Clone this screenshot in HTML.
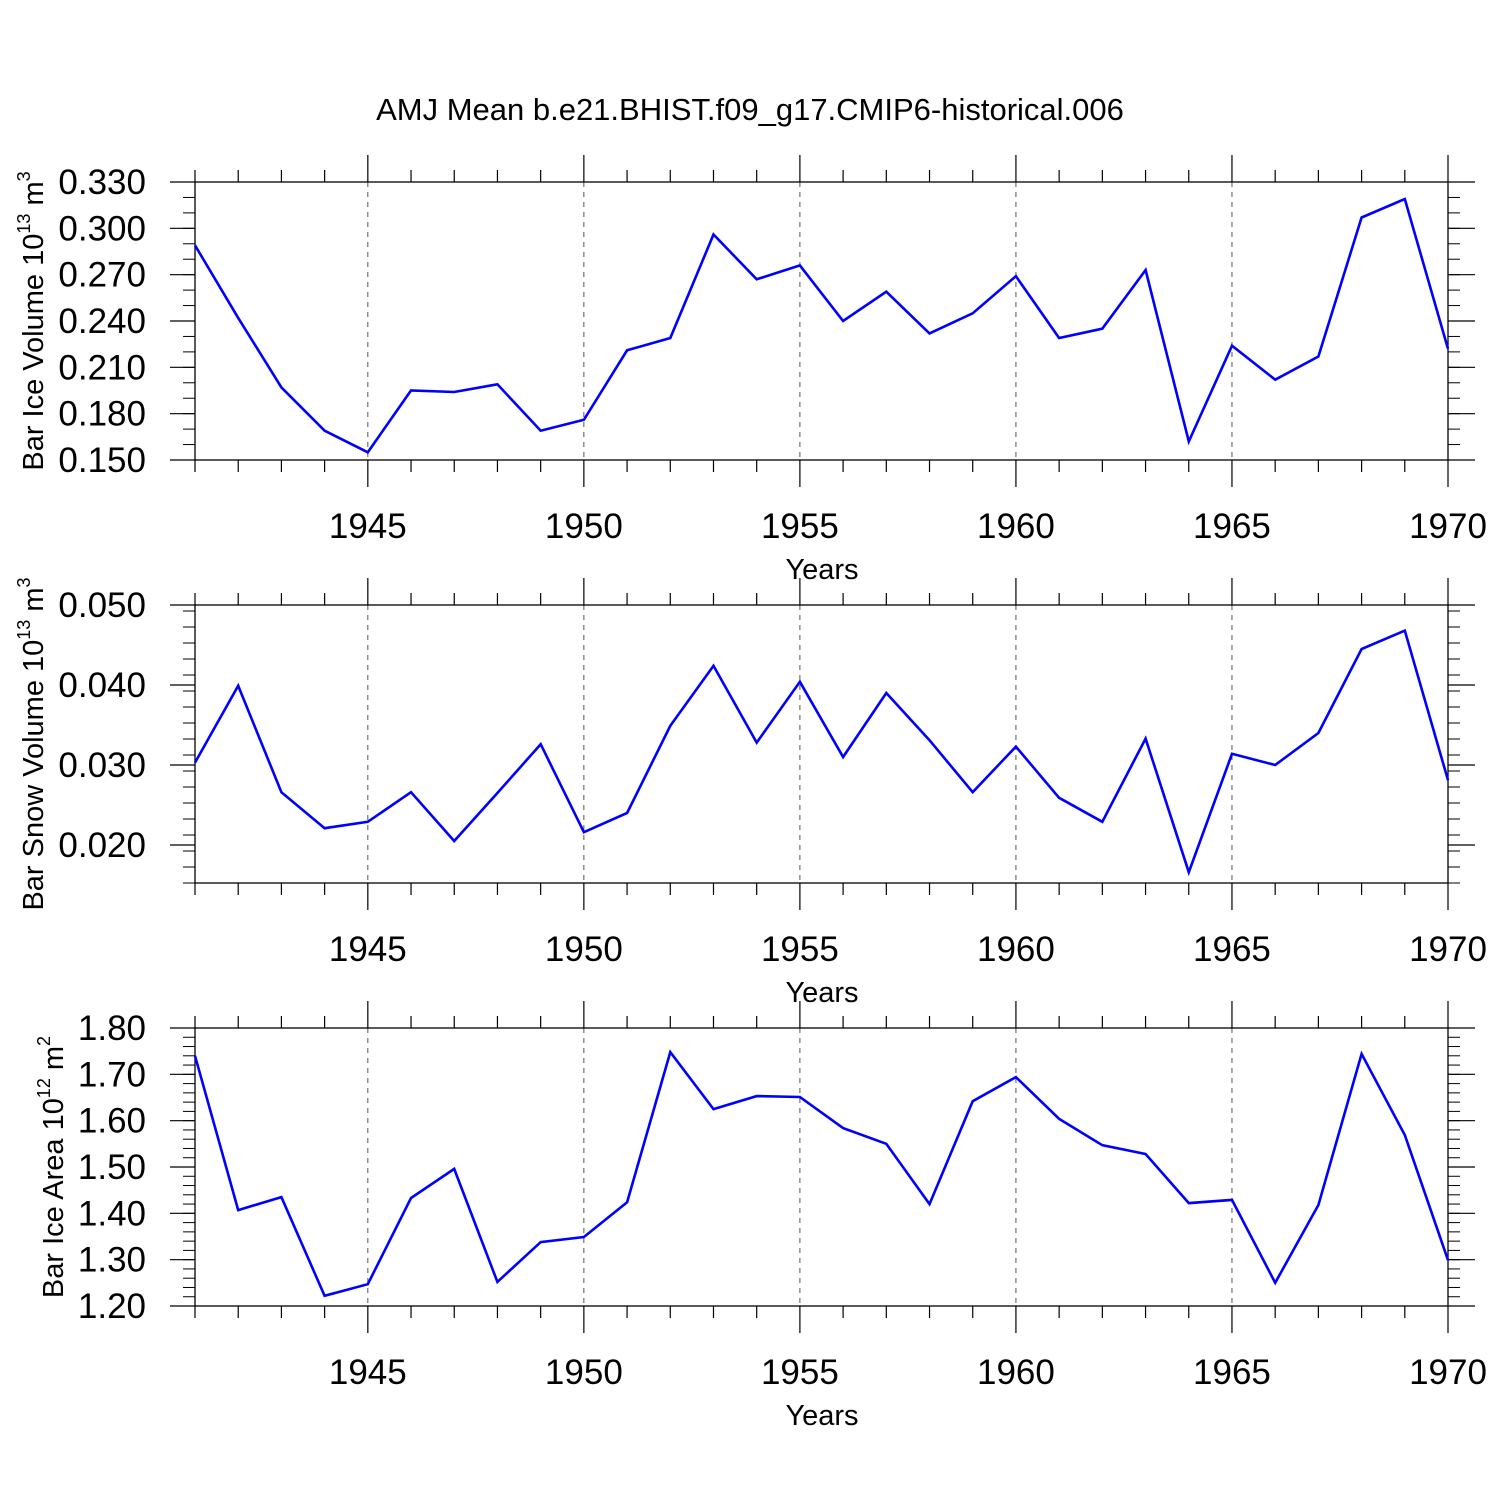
<!DOCTYPE html>
<html><head><meta charset="utf-8"><style>body{margin:0;background:#fff}svg{display:block}text{font-family:"Liberation Sans",sans-serif;fill:#000}</style></head>
<body>
<svg id="c" width="1500" height="1500" viewBox="0 0 1500 1500">
<text x="750" y="120" font-size="31" text-anchor="middle">AMJ Mean b.e21.BHIST.f09_g17.CMIP6-historical.006</text>
</svg>
<script>
const years = [1941,1942,1943,1944,1945,1946,1947,1948,1949,1950,1951,1952,1953,1954,1955,1956,1957,1958,1959,1960,1961,1962,1963,1964,1965,1966,1967,1968,1969,1970];
const iceVolume = [0.289,0.242,0.197,0.169,0.155,0.195,0.194,0.199,0.169,0.176,0.221,0.229,0.296,0.267,0.276,0.240,0.259,0.232,0.245,0.269,0.229,0.235,0.273,0.162,0.224,0.202,0.217,0.307,0.319,0.222];
const snowVolume = [0.0303,0.0399,0.0266,0.0221,0.0229,0.0266,0.0205,0.0265,0.0326,0.0216,0.0240,0.0349,0.0424,0.0328,0.0404,0.0310,0.0390,0.0331,0.0266,0.0323,0.0259,0.0229,0.0333,0.0166,0.0314,0.0300,0.0340,0.0445,0.0468,0.0281];
const iceArea = [1.740,1.407,1.435,1.222,1.247,1.433,1.496,1.252,1.338,1.349,1.424,1.748,1.625,1.653,1.651,1.584,1.550,1.420,1.642,1.694,1.604,1.547,1.528,1.422,1.429,1.250,1.418,1.744,1.569,1.299];
const xTicks = [1945,1950,1955,1960,1965,1970];
const iceVolTicks = [0.150,0.180,0.210,0.240,0.270,0.300,0.330];
const snowTicks = [0.020,0.030,0.040,0.050];
const areaTicks = [1.20,1.30,1.40,1.50,1.60,1.70,1.80];

const svg = document.getElementById('c');
const NS = 'http://www.w3.org/2000/svg';
function mk(tag, attrs, parent){const e=document.createElementNS(NS,tag);for(const k in attrs)e.setAttribute(k,attrs[k]);(parent||svg).appendChild(e);return e;}
const X0=195, X1=1448;
const xs = y => X0 + (y-1941)/(1970-1941)*(X1-X0);

function panel(name, top, bot, ymin, ymax, ticks, minorStep, dec, data, label, exp, unit){
  const g = mk('g',{});
  
  
  const ys = v => bot - (v-ymin)/(ymax-ymin)*(bot-top);
  xTicks.forEach(t=>{ if(t<1970){ const l=mk('line',{x1:xs(t),x2:xs(t),y1:top,y2:bot,stroke:'#555','stroke-width':1,'stroke-dasharray':'5,5'},g);
    
     }});
  const r = mk('rect',{x:X0,y:top,width:X1-X0,height:bot-top,fill:'none',stroke:'#000','stroke-width':1.3},g);
  
  
  years.forEach(yr=>{ const major = xTicks.includes(yr); const L = major?27:12;
    mk('line',{x1:xs(yr),x2:xs(yr),y1:top-L,y2:top,stroke:'#000','stroke-width':1.2},g);
    mk('line',{x1:xs(yr),x2:xs(yr),y1:bot,y2:bot+L,stroke:'#000','stroke-width':1.2},g); });
  xTicks.forEach(t=>{ const tx = mk('text',{x:xs(t),y:bot+78,'font-size':35,'text-anchor':'middle'},g); tx.textContent=t;
    
     });
  const xt = mk('text',{x:822,y:bot+119,'font-size':29,'text-anchor':'middle'},g); xt.textContent='Years';
  
  
  for(let v=ymin; v<=ymax+1e-9; v+=minorStep){ const y=ys(v); if(y<top-0.5) continue;
    mk('line',{x1:X0-12,x2:X0,y1:y,y2:y,stroke:'#000','stroke-width':1},g);
    mk('line',{x1:X1,x2:X1+12,y1:y,y2:y,stroke:'#000','stroke-width':1},g); }
  ticks.forEach(v=>{ const y=ys(v);
    mk('line',{x1:X0-25,x2:X0,y1:y,y2:y,stroke:'#000','stroke-width':1.2},g);
    mk('line',{x1:X1,x2:X1+27,y1:y,y2:y,stroke:'#000','stroke-width':1.2},g);
    const tx = mk('text',{x:146,y:y+12,'font-size':35,'text-anchor':'end'},g); tx.textContent=v.toFixed(dec);
    
     });
  const cy=(top+bot)/2;
  const yt = mk('text',{x:0,y:0,'font-size':29,'text-anchor':'middle',transform:`translate(${label.x},${cy}) rotate(-90)`},g);
  yt.innerHTML = label.t+' 10<tspan font-size="18" dy="-13">'+exp+'</tspan><tspan dy="13"> '+unit+'</tspan><tspan font-size="18" dy="-13">'+label.p+'</tspan>';
  
  
  const pts = data.map((v,i)=>xs(years[i]).toFixed(1)+','+ys(v).toFixed(1)).join(' ');
  const pl = mk('polyline',{points:pts,fill:'none',stroke:'#0000ff','stroke-width':2.6,'stroke-linejoin':'miter'},g);
  
  
}
panel('ice-volume',182,460,0.150,0.330,iceVolTicks,0.010,3,iceVolume,{x:43,t:'Bar Ice Volume',p:'3'},'13','m');
panel('snow-volume',605,883,0.05-278/8000,0.050,snowTicks,0.002,3,snowVolume,{x:43,t:'Bar Snow Volume',p:'3'},'13','m');
panel('ice-area',1028,1306,1.20,1.80,areaTicks,0.02,2,iceArea,{x:63,t:'Bar Ice Area',p:'2'},'12','m');
</script>
</body></html>
